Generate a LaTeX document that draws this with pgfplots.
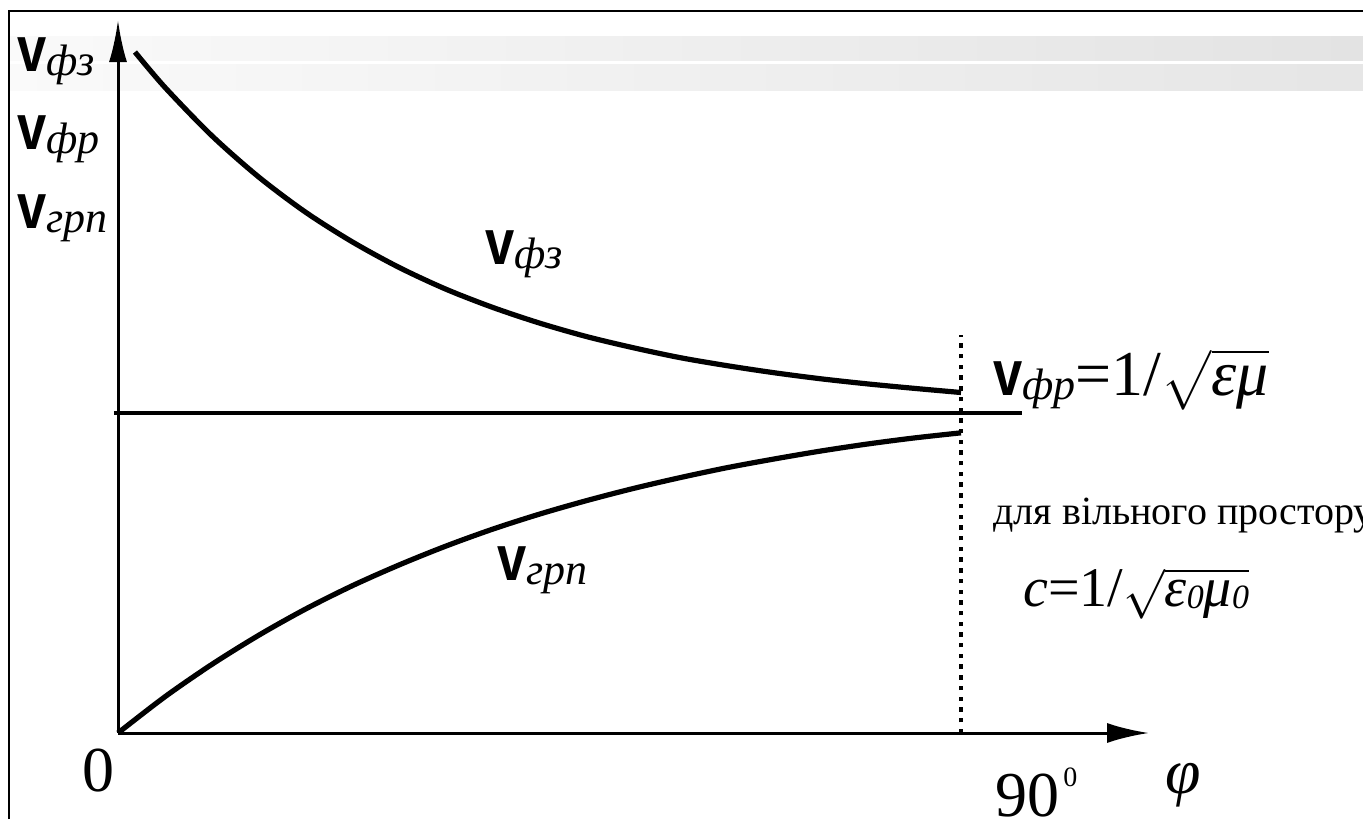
\documentclass[border=0pt]{standalone}
\usepackage{exscale}
\usepackage{fontspec}
\setmainfont{Liberation Serif}
\newfontfamily\arialfont{Liberation Sans}
\usepackage{pgfplots}
\pgfplotsset{compat=1.18}
\usetikzlibrary{arrows.meta}

% velocity symbol: sans "v" with an italic Cyrillic subscript
\newcommand{\vsym}[1]{{\arialfont\bfseries\fontsize{32}{36}\selectfont\scalebox{0.82}[1]{v}}\raisebox{-2pt}{\fontsize{22}{24}\selectfont\itshape #1}}
\newcommand{\sub}[1]{\raisebox{-1pt}{\fontsize{17}{20}\selectfont #1}}

\begin{document}
\begin{tikzpicture}
\begin{axis}[
  width=681.5pt, height=409.5pt, scale only axis,
  xmin=-12.598, xmax=132.918,
  ymin=-0.26875, ymax=2.290625,
  axis lines=none, clip=false,
]
% frame and header bands
\draw[line width=1pt] (axis cs:-11.637,-0.26875) -- (axis cs:-11.637,2.25625) -- (axis cs:132.918,2.25625);
\shade[left color=black!2, right color=black!11] (axis cs:-11.53,2.1) rectangle (axis cs:132.918,2.178);
\shade[left color=black!2, right color=black!10] (axis cs:-11.53,2.00625) rectangle (axis cs:132.918,2.0875);

% axes
\draw[line width=1.5pt, -{Latex[length=21pt,width=9pt]}] (axis cs:0,0) -- (axis cs:0,2.228);
\draw[line width=1.5pt, -{Latex[length=21pt,width=10pt]}] (axis cs:0,0) -- (axis cs:110.07,0);

% level of the phase velocity in the medium
\addplot[line width=1.6pt] coordinates {(-0.43,1) (96.51,1)};
% 90 degree marker
\addplot[line width=2.4pt, dash pattern=on 2.2pt off 3.15pt] coordinates {(90,0) (90,1.244)};

% phase velocity
\addplot[line width=2.6pt, smooth] coordinates {
 (1.81,2.128) (5,2.018) (10,1.867) (15,1.738) (20,1.628) (25,1.535)
 (30,1.455) (35,1.387) (40,1.330) (45,1.281) (50,1.239) (55,1.204)
 (60,1.173) (65,1.148) (70,1.126) (75,1.107) (80,1.091) (85,1.077) (90,1.064)};
% group velocity
\addplot[line width=2.6pt, smooth] coordinates {
 (0,0) (5,0.113) (10,0.214) (15,0.305) (20,0.387) (25,0.460)
 (30,0.525) (35,0.584) (40,0.637) (45,0.684) (50,0.726) (55,0.764)
 (60,0.798) (65,0.829) (70,0.856) (75,0.881) (80,0.903) (85,0.922) (90,0.938)};

% labels
\node[anchor=base west, inner sep=0] at (axis cs:-10.78,2.0656) {\vsym{фз}};
\node[anchor=base west, inner sep=0] at (axis cs:-10.78,1.8219) {\vsym{фр}};
\node[anchor=base west, inner sep=0] at (axis cs:-10.78,1.578) {\vsym{грп}};
\node[anchor=base west, inner sep=0] at (axis cs:39.18,1.4625) {\vsym{фз}};
\node[anchor=base west, inner sep=0] at (axis cs:40.46,0.478) {\vsym{грп}};
\node[anchor=base west, inner sep=0] at (axis cs:93.42,1.056)
  {\vsym{фр}\fontsize{32}{38}\selectfont=1/$\sqrt{\rule{0pt}{19pt}\mbox{\itshape εμ}}$};
\node[anchor=base west, inner sep=0] at (axis cs:93.42,0.65)
  {\fontsize{20}{24}\selectfont для вільного простору};
\node[anchor=base west, inner sep=0] at (axis cs:96.62,0.394)
  {\fontsize{28}{32}\selectfont\textit{c}=1/$\sqrt{\rule{0pt}{16pt}\mbox{\itshape ε\sub{0}μ\sub{0}}}$};
\node[anchor=base west, inner sep=0] at (axis cs:-3.84,-0.18125) {\fontsize{32}{38}\selectfont 0};
\node[anchor=base west, inner sep=0] at (axis cs:93.63,-0.262)
  {\fontsize{32}{38}\selectfont 90\hspace{2pt}\raisebox{15pt}{\fontsize{14}{16}\selectfont 0}};
\node[anchor=base west, inner sep=0] at (axis cs:111.78,-0.1875) {\fontsize{32}{38}\selectfont\itshape φ};
\end{axis}
\pgfresetboundingbox
\path[use as bounding box] (current axis.south west) rectangle (current axis.north east);
\end{tikzpicture}
\end{document}
